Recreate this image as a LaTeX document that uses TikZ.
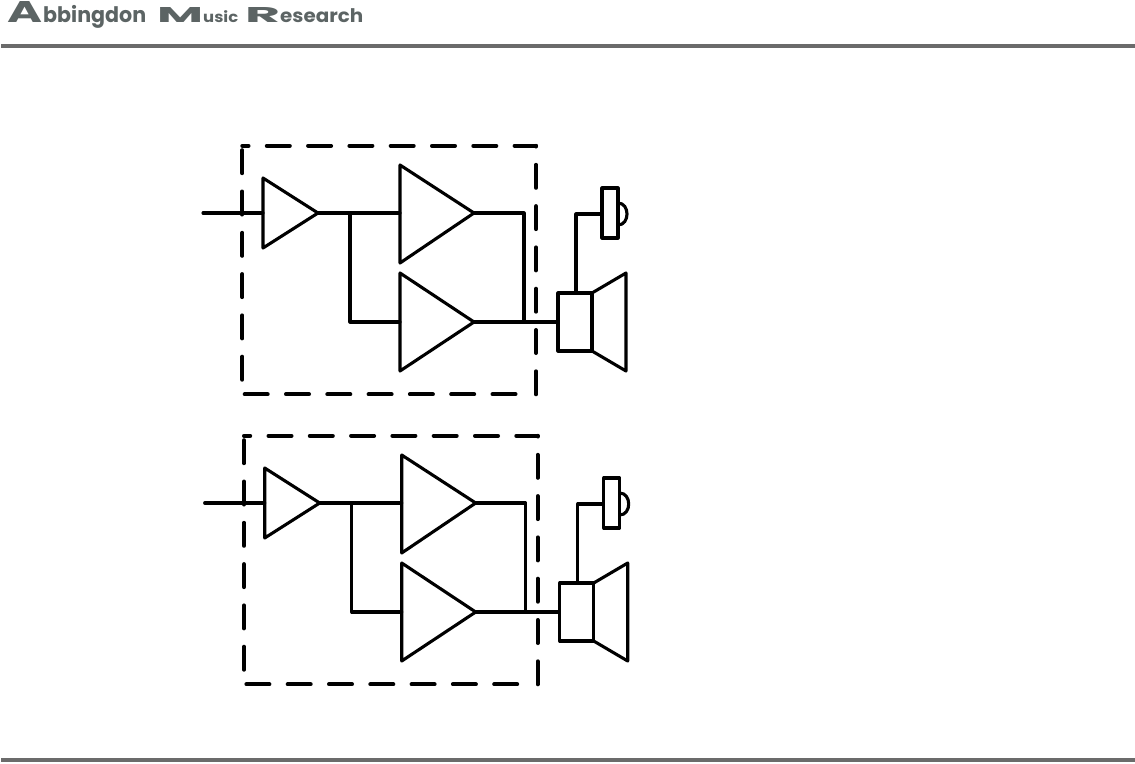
\documentclass[tikz,border=0pt]{standalone}
\usepackage{fontspec}
\usepackage{graphicx}
\setmainfont{Poppins}
\definecolor{rulegray}{HTML}{6B6B6B}
\definecolor{logogray}{HTML}{5C6464}
\newcommand{\logopart}[3]{\resizebox*{#1pt}{#2pt}{\bfseries #3}}
\tikzset{
  x=1pt,y=-1pt,
  wire/.style={line width=3.1pt,line join=round,line cap=round,draw=black},
  dashbox/.style={line width=4pt,line cap=round,draw=black,dash pattern=on 23pt off 18.3pt},
  partbox/.style={draw=black,line width=3.1pt,line join=round,inner sep=0pt,fill=white},
  headrule/.style={line width=4pt,draw=rulegray},
  logotext/.style={inner sep=0pt,anchor=base west,text=logogray},
  channel/.pic={
    \coordinate (-nw) at (242.3,145.8);
    \coordinate (-ne) at (536,145.8);
    \coordinate (-se) at (536,394.3);
    \coordinate (-sw) at (242.3,394.3);
    \coordinate (-ls) at (242.3,150.2);
    \coordinate (-bs) at (244.7,394.3);
    \coordinate (-be) at (525,394.3);
    \draw[dashbox,dash phase=16.8pt] (-nw) -- (-ne);
    \draw[dashbox] (-ls) -- (-sw);
    \draw[dashbox,dash phase=22.3pt] (-ne) -- (-se);
    \draw[dashbox] (-bs) -- (-be);
    % input amplifier
    \coordinate (-in) at (203,213);
    \coordinate (-a) at (263,178);
    \coordinate (-b) at (263,248);
    \coordinate (-c) at (263,213);
    \coordinate (-t) at (318,213);
    % upper amplifier
    \coordinate (-ua) at (400,165);
    \coordinate (-ub) at (400,263);
    \coordinate (-uc) at (400,213);
    \coordinate (-ut) at (474,213);
    % lower amplifier
    \coordinate (-la) at (400,273);
    \coordinate (-lb) at (400,371);
    \coordinate (-lc) at (400,322);
    \coordinate (-lt) at (474,322);
    % junctions
    \coordinate (-j1) at (350,213);
    \coordinate (-j2) at (350,322);
    \coordinate (-j3) at (524,213);
    \coordinate (-j4) at (524,322);
    \coordinate (-j5) at (576,214);
    % speaker and microphone
    \node[partbox,minimum width=34pt,minimum height=58pt] (-drv) at (575,322) {};
    \coordinate (-c1) at (592,293);
    \coordinate (-c2) at (626,273);
    \coordinate (-c3) at (626,371);
    \coordinate (-c4) at (592,351);
    \node[partbox,minimum width=16pt,minimum height=50pt] (-mic) at (610,213) {};
    \coordinate (-m1) at (618,203);
    \coordinate (-m2) at (618,225);
    \draw[wire] (-in) -- (-c);
    \draw[wire] (-a) -- (-b) -- (-t) -- cycle;
    \draw[wire] (-ua) -- (-ub) -- (-ut) -- cycle;
    \draw[wire] (-la) -- (-lb) -- (-lt) -- cycle;
    \draw[wire] (-t) -- (-uc);
    \draw[wire] (-j1) -- (-j2) -- (-lc);
    \draw[wire] (-ut) -- (-j3) -- (-j4);
    \draw[wire] (-lt) -- (-drv.west);
    \draw[wire] (-c1) -- (-c2) -- (-c3) -- (-c4);
    \draw[wire] (-drv.north -| -j5) -- (-j5) -- (-j5 -| -mic.west);
    \draw[wire] (-m1) .. controls (630,203) and (630,225) .. (-m2);
  }
}
\begin{document}
\begin{tikzpicture}
\useasboundingbox (0,0) rectangle (1135,763);
\fill[white] (0,0) rectangle (1135,763);
\coordinate (r1a) at (1,46);
\coordinate (r1b) at (1135,46);
\coordinate (r2a) at (1,760);
\coordinate (r2b) at (1135,760);
\draw[headrule] (r1a) -- (r1b);
\draw[headrule] (r2a) -- (r2b);
\node[logotext] (logo) at (7,22) {\logopart{35}{21}{A}\hspace{1pt}\logopart{103}{23}{bbingdon}\hspace{11pt}\logopart{46}{15}{M}\logopart{35}{12}{usic}\hspace{7pt}\logopart{35}{15}{R}\logopart{83}{14}{esearch}};
\pic (top) at (0,0) {channel};
\pic (bot) at (1.7,290) {channel};
\end{tikzpicture}
\end{document}
